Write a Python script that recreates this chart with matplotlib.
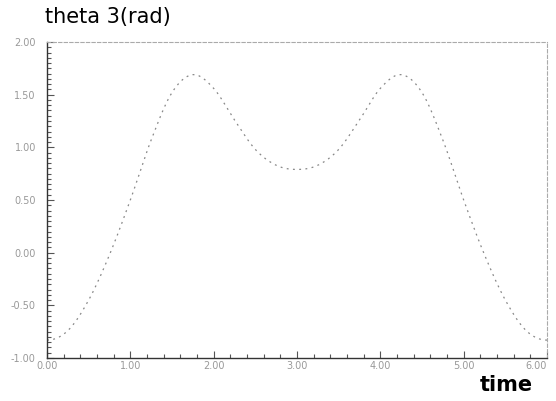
import matplotlib
matplotlib.use('Agg')
import matplotlib.pyplot as plt
from matplotlib.ticker import MultipleLocator
import numpy as np

# values
time = [0.0, 0.25, 0.5, 0.75, 1.0, 1.25, 1.5, 1.75, 2.0, 2.25, 2.5, 2.75, 3.0,
        3.25, 3.5, 3.75, 4.0, 4.25, 4.5, 4.75, 5.0, 5.25, 5.5, 5.75, 6.0]
theta3 = [-0.83, -0.74, -0.45, -0.02, 0.50, 1.07, 1.52, 1.69, 1.56, 1.26, 0.98, 0.83, 0.79,
          0.83, 0.98, 1.26, 1.56, 1.69, 1.52, 1.07, 0.50, -0.02, -0.45, -0.74, -0.83]
xticks = [0, 1, 2, 3, 4, 5, 6]
yticks = [-1.0, -0.5, 0.0, 0.5, 1.0, 1.5, 2.0]


def catmull_rom(x, y, n=20):
    # smooth curve through the read points
    x = np.asarray(x, float)
    y = np.asarray(y, float)
    px = np.concatenate([[2 * x[0] - x[1]], x, [2 * x[-1] - x[-2]]])
    py = np.concatenate([[y[1]], y, [y[-2]]])
    xs, ys = [], []
    for i in range(1, len(px) - 2):
        t = np.linspace(0, 1, n, endpoint=False)
        for p, out in ((px, xs), (py, ys)):
            p0, p1, p2, p3 = p[i - 1], p[i], p[i + 1], p[i + 2]
            out.extend(0.5 * (2 * p1 + (-p0 + p2) * t + (2 * p0 - 5 * p1 + 4 * p2 - p3) * t ** 2
                              + (-p0 + 3 * p1 - 3 * p2 + p3) * t ** 3))
    xs.append(x[-1])
    ys.append(y[-1])
    return np.array(xs), np.array(ys)


t_fine, th_fine = catmull_rom(time, theta3)

fig = plt.figure(figsize=(5.56, 4.01), dpi=100)
ax = fig.add_axes([47 / 556, 1 - 358 / 401, 500 / 556, 316 / 401])

ax.plot(t_fine, th_fine, color='#888888', lw=0.9, linestyle=(0, (1.5, 3.5)))

ax.set_xlim(0, 6)
ax.set_ylim(-1.0, 2.0)
ax.set_xticks(xticks)
ax.set_yticks(yticks)
ax.set_xticklabels([f'{v:.2f}' for v in xticks])
ax.set_yticklabels([f'{v:.2f}' for v in yticks])
ax.xaxis.set_minor_locator(MultipleLocator(0.2))
ax.yaxis.set_minor_locator(MultipleLocator(0.05))
ax.tick_params(which='both', direction='in', colors='#555555', labelcolor='#999999',
               labelsize=7, width=0.8)
ax.tick_params(which='major', length=5)
ax.tick_params(which='minor', length=3)
ax.tick_params(axis='x', pad=2)
ax.tick_params(axis='y', pad=8)
# last x label would run off the right edge
ax.get_xticklabels()[-1].set_horizontalalignment('right')

ax.spines['left'].set_color('#333333')
ax.spines['bottom'].set_color('#333333')
ax.spines['left'].set_linewidth(1.0)
ax.spines['bottom'].set_linewidth(1.0)
for s in ['top', 'right']:
    ax.spines[s].set_color('#aaaaaa')
    ax.spines[s].set_linewidth(0.8)
    ax.spines[s].set_linestyle((0, (3, 2)))

fig.text(45 / 556, 1 - 17 / 401, 'theta 3(rad)', fontsize=15, color='black',
         va='center', ha='left')
fig.text(506 / 556, 1 - 385 / 401, 'time', fontsize=15, color='black',
         va='center', ha='center', fontweight='bold')

fig.savefig('out.png', dpi=100)
